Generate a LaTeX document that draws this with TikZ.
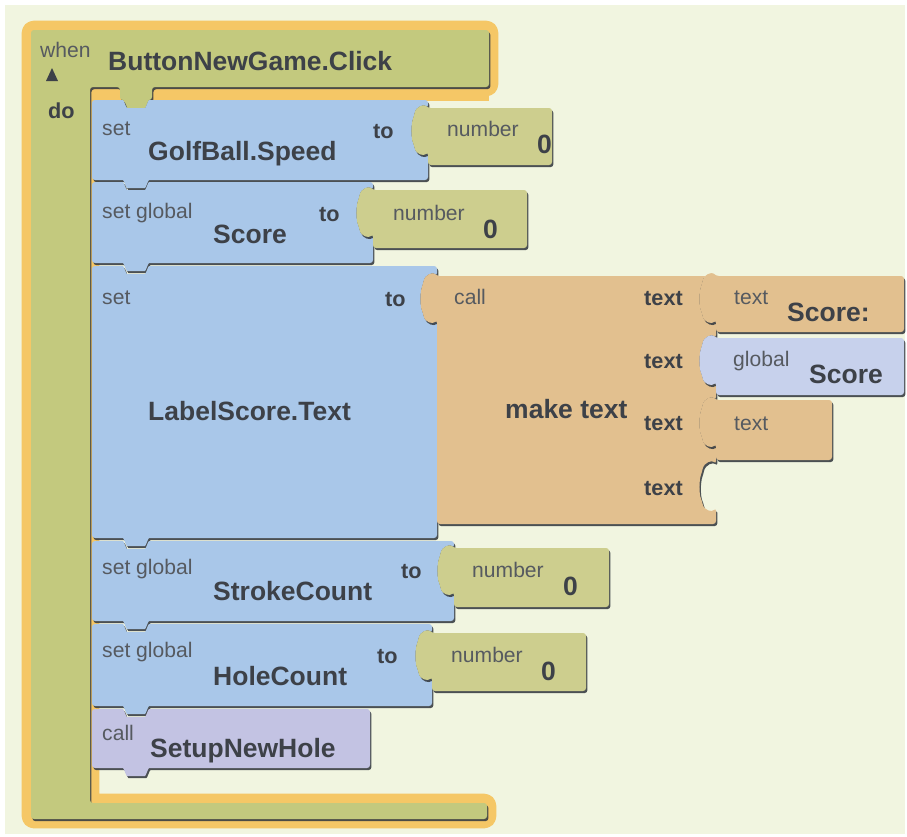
\documentclass[tikz,border=0pt]{standalone}
\usepackage{fontspec}
\setmainfont{Liberation Sans}
\usetikzlibrary{shadows}
\definecolor{bgc}{HTML}{F1F5E0}
\definecolor{glowc}{HTML}{F5C766}
\definecolor{evtc}{HTML}{C3C97E}
\definecolor{numc}{HTML}{CDCE8E}
\definecolor{bluec}{HTML}{A9C7E9}
\definecolor{tanc}{HTML}{E2C08F}
\definecolor{globc}{HTML}{C7D1EC}
\definecolor{callc}{HTML}{C3C3E3}
\definecolor{shadc}{HTML}{3A3F44}
\definecolor{namec}{HTML}{3D4148}
\definecolor{lblc}{HTML}{565A60}
\newcommand{\notchlr}[2]{-- (#1+28,#2) .. controls (#1+32,#2) and (#1+34,#2+8) .. (#1+38,#2+8) -- (#1+50,#2+8) .. controls (#1+54,#2+8) and (#1+56,#2) .. (#1+60,#2)}
\newcommand{\notchrl}[2]{-- (#1+60,#2) .. controls (#1+56,#2) and (#1+54,#2+8) .. (#1+50,#2+8) -- (#1+38,#2+8) .. controls (#1+34,#2+8) and (#1+32,#2) .. (#1+28,#2)}
\newcommand{\socketdown}[2]{-- (#1,#2) .. controls (#1-4,#2-4) and (#1-12,#2-2) .. (#1-14,#2+8) .. controls (#1-17,#2+16) and (#1-17,#2+30) .. (#1-14,#2+37) .. controls (#1-12,#2+47) and (#1-4,#2+48) .. (#1,#2+44)}
\newcommand{\socketup}[2]{-- (#1,#2+44) .. controls (#1-4,#2+48) and (#1-12,#2+47) .. (#1-14,#2+37) .. controls (#1-17,#2+30) and (#1-17,#2+16) .. (#1-14,#2+8) .. controls (#1-12,#2-2) and (#1-4,#2-4) .. (#1,#2)}
\begin{document}
\begin{tikzpicture}[x=0.03cm, y=-0.03cm,
        blk/.style={rounded corners=2.5pt, drop shadow={shadow xshift=1.2pt, shadow yshift=-1.8pt, fill=shadc, opacity=.9}},
        evtblk/.style={preaction={draw=glowc, line width=16pt, line join=round}, blk, fill=evtc},
        stmt/.style={blk, fill=bluec},
        numblk/.style={blk, fill=numc},
        txtblk/.style={blk, fill=tanc},
        globblk/.style={blk, fill=globc},
        callblk/.style={blk, fill=callc},
        lbl/.style={font=\fontsize{18}{20}\selectfont, text=lblc, inner sep=0pt, anchor=mid west, yshift=-2.6pt},
        kw/.style={font=\bfseries\fontsize{18.5}{20}\selectfont, text=namec, inner sep=0pt, anchor=mid west, yshift=-2.6pt},
        nm/.style={font=\bfseries\fontsize{22.6}{24}\selectfont, text=namec, inner sep=0pt, anchor=mid west, yshift=-2.6pt}]
            \useasboundingbox (0,0) rectangle (907,836);
            \fill[white] (0,0) rectangle (907,836);
            \fill[bgc] (5,5) rectangle (905,834);

            \fill[glowc] (90,85) rectangle (489,101);
            \path[evtblk] (31,30) -- (489,30) -- (489,87) -- (152,87) \notchrl{92}{100} -- (120,87) -- (90,87) -- (90,803) -- (487,803) -- (487,819) -- (31,819) -- cycle;
            \node[lbl] (when) at (40,51) {when};
            \fill[namec] (46,81) -- (58,81) -- (52,68) -- cycle;
            \node[nm] (evt) at (108,64) {ButtonNewGame.Click};
            \node[kw] (do) at (48,112) {do};

            \path[stmt] (92,100) \notchlr{92}{100} -- (428,100) \socketdown{428}{108} -- (428,180) \notchrl{92}{180} -- (92,180) -- cycle;
            \path[numblk] (552,108) \socketdown{428}{108} -- (428,165) -- (552,165) -- cycle;
            \node[lbl] (set1) at (102,129) {set};
            \node[nm] (golf) at (148,154) {GolfBall.Speed};
            \node[kw] (to1) at (373,132) {to};
            \node[lbl] (num1) at (447,130) {number};
            \node[nm] (zero1) at (537,147) {0};

            \path[stmt] (92,182) \notchlr{92}{182} -- (373,182) \socketdown{373}{190} -- (373,263) \notchrl{92}{263} -- (92,263) -- cycle;
            \path[numblk] (527,190) \socketdown{373}{190} -- (373,248) -- (527,248) -- cycle;
            \node[lbl] (set2) at (102,212) {set global};
            \node[nm] (score) at (213,237) {Score};
            \node[kw] (to2) at (319,215) {to};
            \node[lbl] (num2) at (393,214) {number};
            \node[nm] (zero2) at (483,232) {0};

            \path[stmt] (92,266) \notchlr{92}{266} -- (437,266) \socketdown{437}{276} -- (437,538) \notchrl{92}{538} -- (92,538) -- cycle;
            \path[txtblk] (600,276) \socketdown{437}{276} -- (437,524) -- (716,524) \socketup{716}{464} \socketup{716}{400} \socketup{716}{338} \socketup{716}{276} -- cycle;
            \path[txtblk] (904,276) \socketdown{716}{276} -- (716,332) -- (904,332) -- cycle;
            \path[globblk] (904,338) \socketdown{716}{338} -- (716,395) -- (904,395) -- cycle;
            \path[txtblk] (832,400) \socketdown{716}{400} -- (716,460) -- (832,460) -- cycle;
            \node[lbl] (set3) at (102,298) {set};
            \node[nm] (label) at (148,414) {LabelScore.Text};
            \node[kw] (to3) at (385,300) {to};
            \node[lbl] (call3) at (454,298) {call};
            \node[nm] (make) at (505,412) {make text};
            \node[kw] (arg1) at (644,299) {text};
            \node[kw] (arg2) at (644,362) {text};
            \node[kw] (arg3) at (644,424) {text};
            \node[kw] (arg4) at (644,489) {text};
            \node[lbl] (txt1) at (734,298) {text};
            \node[nm] (scorecol) at (787,315) {Score:};
            \node[lbl] (glob) at (733,360) {global};
            \node[nm] (globscore) at (809,377) {Score};
            \node[lbl] (txt3) at (734,424) {text};

            \path[stmt] (92,541) \notchlr{92}{541} -- (454,541) \socketdown{454}{548} -- (454,621) \notchrl{92}{621} -- (92,621) -- cycle;
            \path[numblk] (609,548) \socketdown{454}{548} -- (454,607) -- (609,607) -- cycle;
            \node[lbl] (set4) at (102,568) {set global};
            \node[nm] (stroke) at (213,594) {StrokeCount};
            \node[kw] (to4) at (401,572) {to};
            \node[lbl] (num4) at (472,571) {number};
            \node[nm] (zero4) at (563,589) {0};

            \path[stmt] (92,624) \notchlr{92}{624} -- (432,624) \socketdown{432}{633} -- (432,706) \notchrl{92}{706} -- (92,706) -- cycle;
            \path[numblk] (586,633) \socketdown{432}{633} -- (432,691) -- (586,691) -- cycle;
            \node[lbl] (set5) at (102,651) {set global};
            \node[nm] (hole) at (213,679) {HoleCount};
            \node[kw] (to5) at (377,657) {to};
            \node[lbl] (num5) at (451,656) {number};
            \node[nm] (zero5) at (541,674) {0};

            \path[callblk] (92,709) \notchlr{92}{709} -- (370,709) -- (370,768) \notchrl{92}{768} -- (92,768) -- cycle;
            \node[lbl] (call6) at (102,734) {call};
            \node[nm] (setup) at (150,751) {SetupNewHole};
\end{tikzpicture}
\end{document}
